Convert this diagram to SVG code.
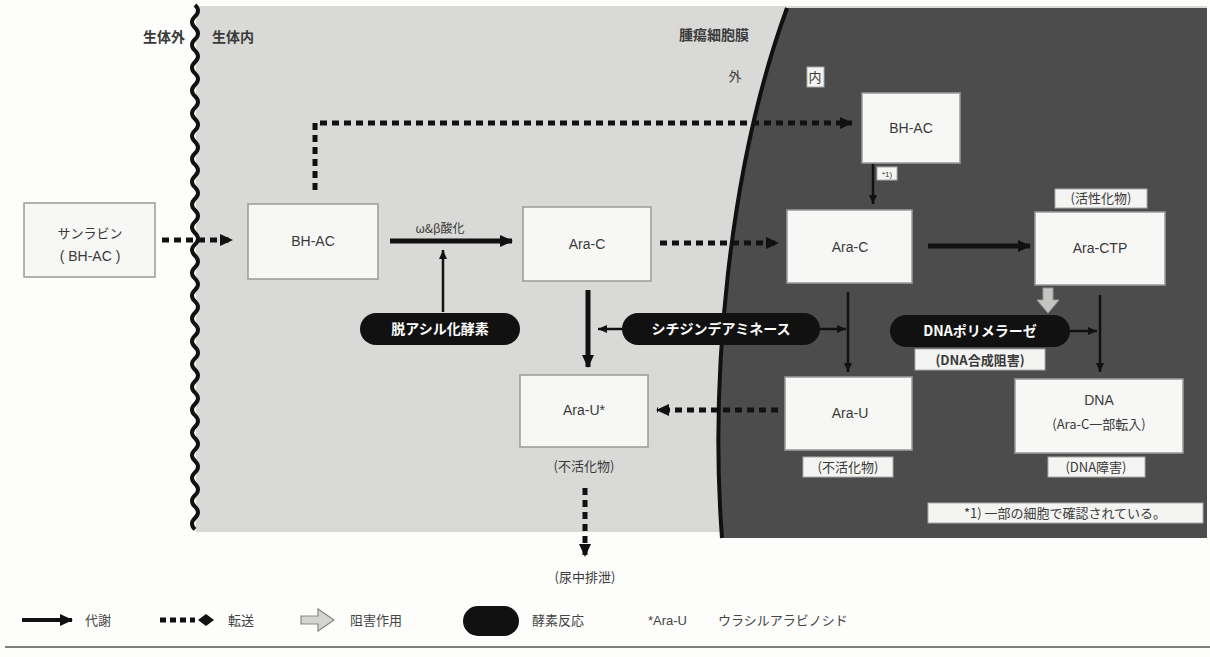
<svg xmlns="http://www.w3.org/2000/svg" width="1210" height="657" viewBox="0 0 1210 657">
<style>
.box{fill:#f7f7f5;stroke:#9a9a9a;stroke-width:1.5}
.lbl{fill:#f4f4f2;stroke:#aaa;stroke-width:1}
.t{font-family:"Liberation Sans","Noto Sans CJK JP",sans-serif;font-size:14px;fill:#3a3a3a;text-anchor:middle}
.j{font-family:"Noto Sans CJK JP",sans-serif;font-size:13px;fill:#3a3a3a;text-anchor:middle}
.jb{font-family:"Noto Sans CJK JP",sans-serif;font-size:14px;font-weight:bold;fill:#3a3a3a}
.pill{fill:#111}
.pt{font-family:"Noto Sans CJK JP",sans-serif;font-size:14px;font-weight:bold;fill:#fff;text-anchor:middle}
.solid{stroke:#111;stroke-width:5;fill:none}
.thin{stroke:#111;stroke-width:2.5;fill:none}
.dash{stroke:#111;stroke-width:5;stroke-dasharray:7 5;fill:none}
.lg{font-family:"Noto Sans CJK JP",sans-serif;font-size:13px;fill:#444}
</style>
<defs>
<marker id="ah" markerUnits="userSpaceOnUse" markerWidth="14" markerHeight="14" refX="12" refY="7" orient="auto"><path d="M0,1 L13,7 L0,13 Z" fill="#111"/></marker>
<marker id="as" markerUnits="userSpaceOnUse" markerWidth="10" markerHeight="10" refX="9" refY="5" orient="auto"><path d="M0,1 L9,5 L0,9 Z" fill="#111"/></marker>
</defs>
<rect width="1210" height="657" fill="#fdfdfb"/>
<g id="regions">
<rect x="196" y="6" width="1011" height="526" fill="#d9d9d7"/>
<path d="M787,8 L1207,8 L1207,538 L722,538 C710,380 728,170 787,8 Z" fill="#4c4c4c"/>
<path d="M722,538 C710,380 728,170 787,8" fill="none" stroke="#111" stroke-width="4"/>
<path d="M195,5 q6,5.7 0,11.4 t0,11.4 t0,11.4 t0,11.4 t0,11.4 t0,11.4 t0,11.4 t0,11.4 t0,11.4 t0,11.4 t0,11.4 t0,11.4 t0,11.4 t0,11.4 t0,11.4 t0,11.4 t0,11.4 t0,11.4 t0,11.4 t0,11.4 t0,11.4 t0,11.4 t0,11.4 t0,11.4 t0,11.4 t0,11.4 t0,11.4 t0,11.4 t0,11.4 t0,11.4 t0,11.4 t0,11.4 t0,11.4 t0,11.4 t0,11.4 t0,11.4 t0,11.4 t0,11.4 t0,11.4 t0,11.4 t0,11.4 t0,11.4 t0,11.4 t0,11.4 t0,11.4 t0,11.4" fill="none" stroke="#111" stroke-width="4"/>
<text class="jb" x="185" y="42" text-anchor="end">生体外</text>
<text class="jb" x="212" y="42">生体内</text>
<text class="jb" x="714" y="40" text-anchor="middle">腫瘍細胞膜</text>
<text class="j" x="735" y="81">外</text>
<rect class="lbl" x="807" y="67" width="17" height="20"/>
<text class="j" x="815" y="82">内</text>
</g>
<g id="connectors">
<path class="dash" d="M162,240 L232,240" marker-end="url(#ah)"/>
<path class="dash" d="M315,190 L315,123 L852,123" marker-end="url(#ah)"/>
<path class="solid" d="M390,241 L512,241" marker-end="url(#ah)"/>
<path class="thin" d="M443,312 L443,250" marker-end="url(#as)"/>
<path class="dash" d="M660,243 L778,243" marker-end="url(#ah)"/>
<path class="solid" d="M588,290 L588,367" marker-end="url(#ah)"/>
<path class="thin" d="M622,329 L598,329" marker-end="url(#as)"/>
<path class="thin" d="M820,329 L846,329" marker-end="url(#as)"/>
<path class="thin" d="M873,164 L873,204" marker-end="url(#as)"/>
<path class="solid" d="M928,246 L1030,246" marker-end="url(#ah)"/>
<path class="thin" d="M848,292 L848,372" marker-end="url(#as)"/>
<path class="thin" d="M1070,331 L1097,331" marker-end="url(#as)"/>
<path class="thin" d="M1100,295 L1100,372" marker-end="url(#as)"/>
<path class="dash" d="M778,410 L657,410" marker-end="url(#ah)"/>
<path class="dash" d="M585,488 L585,556" marker-end="url(#ah)"/>
<path d="M1043,288 L1053,288 L1053,300 L1059,300 L1048,313 L1037,300 L1043,300 Z" fill="#c4c4c2" stroke="#999" stroke-width="1"/>
<text class="j" x="440" y="233" style="font-size:12px">ω&amp;β酸化</text>
</g>
<g id="n-sunrabin">
<rect class="box" x="24" y="203" width="131" height="74"/>
<text class="j" x="90" y="238">サンラビン</text>
<text class="t" x="90" y="261">( BH-AC )</text>
</g>
<g id="n-bhac1">
<rect class="box" x="248" y="204" width="130" height="75"/>
<text class="t" x="313" y="246">BH-AC</text>
</g>
<g id="n-arac1">
<rect class="box" x="523" y="207" width="128" height="74"/>
<text class="t" x="587" y="249">Ara-C</text>
</g>
<g id="n-deacyl">
<rect class="pill" x="360" y="313" width="160" height="32" rx="16"/>
<text class="pt" x="440" y="334">脱アシル化酵素</text>
</g>
<g id="n-cda">
<rect class="pill" x="622" y="313" width="198" height="32" rx="16"/>
<text class="pt" x="721" y="334">シチジンデアミネース</text>
</g>
<g id="n-arau1">
<rect class="box" x="520" y="375" width="128" height="72"/>
<text class="t" x="584" y="415">Ara-U*</text>
<text class="j" x="584" y="471">(不活化物)</text>
<text class="j" x="585" y="582">(尿中排泄)</text>
</g>
<g id="n-bhac2">
<rect class="box" x="862" y="93" width="98" height="70"/>
<text class="t" x="911" y="133">BH-AC</text>
<rect class="lbl" x="877" y="167" width="20" height="13"/>
<text class="t" x="887" y="177" style="font-size:8px">*1)</text>
</g>
<g id="n-arac2">
<rect class="box" x="787" y="210" width="125" height="73"/>
<text class="t" x="850" y="252">Ara-C</text>
</g>
<g id="n-aractp">
<rect class="lbl" x="1055" y="189" width="92" height="19"/>
<text class="j" x="1101" y="203">(活性化物)</text>
<rect class="box" x="1035" y="212" width="130" height="73"/>
<text class="t" x="1100" y="253">Ara-CTP</text>
</g>
<g id="n-dnapol">
<rect class="pill" x="890" y="315" width="180" height="32" rx="16"/>
<text class="pt" x="980" y="336">DNAポリメラーゼ</text>
<rect class="lbl" x="915" y="349" width="130" height="21"/>
<text class="j" x="980" y="365" style="font-weight:bold">(DNA合成阻害)</text>
</g>
<g id="n-arau2">
<rect class="box" x="785" y="377" width="127" height="73"/>
<text class="t" x="850" y="418">Ara-U</text>
<rect class="lbl" x="803" y="457" width="90" height="20"/>
<text class="j" x="848" y="472">(不活化物)</text>
</g>
<g id="n-dna">
<rect class="box" x="1015" y="379" width="168" height="74"/>
<text class="t" x="1099" y="405">DNA</text>
<text class="j" x="1099" y="429">(Ara-C一部転入)</text>
<rect class="lbl" x="1048" y="457" width="97" height="20"/>
<text class="j" x="1096" y="472">(DNA障害)</text>
</g>
<g id="note">
<rect class="lbl" x="928" y="503" width="275" height="20"/>
<text class="j" x="1065" y="518">*1) 一部の細胞で確認されている。</text>
</g>
<g id="legend">
<path class="solid" d="M22,620 L72,620" marker-end="url(#ah)" style="stroke-width:4"/>
<text class="lg" x="85" y="625">代謝</text>
<path d="M160,620 L195,620" stroke="#111" stroke-width="5" stroke-dasharray="6 4" fill="none"/>
<path d="M198,620 L206,614 L214,620 L206,626 Z" fill="#111"/>
<text class="lg" x="228" y="625">転送</text>
<path d="M301,616 L318,616 L318,609 L334,620 L318,631 L318,624 L301,624 Z" fill="#d4d4d2" stroke="#888" stroke-width="1.2"/>
<text class="lg" x="350" y="625">阻害作用</text>
<rect class="pill" x="463" y="606" width="56" height="30" rx="15"/>
<text class="lg" x="532" y="625">酵素反応</text>
<text class="lg" x="648" y="625" style="font-family:'Liberation Sans',sans-serif">*Ara-U</text>
<text class="lg" x="718" y="625">ウラシルアラビノシド</text>
<line x1="5" y1="647" x2="1210" y2="647" stroke="#555" stroke-width="1.5"/>
</g>
</svg>
